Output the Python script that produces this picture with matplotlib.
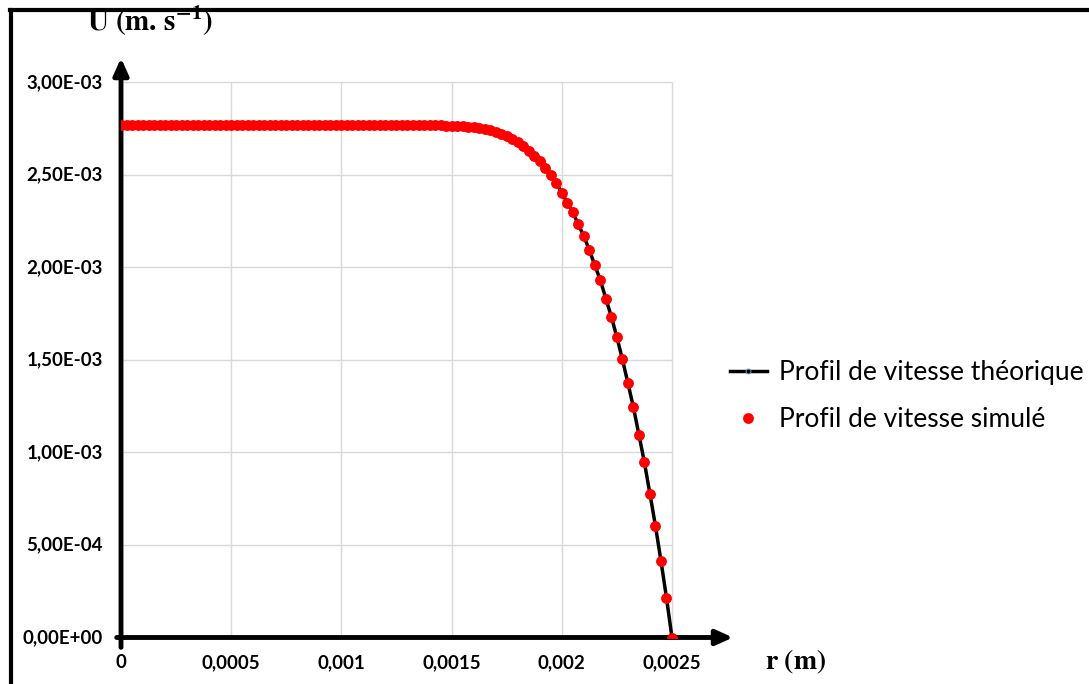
import numpy as np
import matplotlib
matplotlib.use('Agg')
import matplotlib.pyplot as plt
from matplotlib.lines import Line2D

# radial positions (101 points, every 2.5e-5 m)
r = np.linspace(0, 0.0025, 101)

# velocity, in 1e-3 m/s
u_read = [2.768] * 59 + [
    2.767, 2.766, 2.765, 2.763, 2.761, 2.758, 2.754, 2.749, 2.742, 2.733,
    2.722, 2.709, 2.694, 2.677, 2.656, 2.631, 2.604, 2.574, 2.540, 2.502,
    2.455, 2.404, 2.351, 2.297, 2.234, 2.169, 2.094, 2.012, 1.931, 1.832,
    1.734, 1.623, 1.504, 1.376, 1.245, 1.097, 0.946, 0.777, 0.604, 0.415,
    0.216, 0.000]
u_theo = np.array(u_read) * 1e-3
u_sim = np.array(u_read) * 1e-3

x_ticks = [0, 0.0005, 0.001, 0.0015, 0.002, 0.0025]
x_labels = ['0', '0,0005', '0,001', '0,0015', '0,002', '0,0025']
y_ticks = [0, 5e-4, 1e-3, 1.5e-3, 2e-3, 2.5e-3, 3e-3]
y_labels = ['0,00E+00', '5,00E-04', '1,00E-03', '1,50E-03', '2,00E-03', '2,50E-03', '3,00E-03']

W, H = 1089, 684
fig = plt.figure(figsize=(W / 100, H / 100), dpi=100)
ax = fig.add_axes([121 / W, 1 - 637.5 / H, (733 - 121) / W, (637.5 - 58) / H])
ax.set_xlim(0, 0.002777)
ax.set_ylim(0, 3.132e-3)
for s in ax.spines.values():
    s.set_visible(False)
ax.set_xticks([])
ax.set_yticks([])

# grid
ax.vlines(x_ticks[1:], 0, 3e-3, color='#d9d9d9', lw=1, zorder=0)
ax.hlines(y_ticks[1:], 0, 0.0025, color='#d9d9d9', lw=1, zorder=0)

# axes with arrows
ax.annotate('', xy=(1.0, 0), xycoords='axes fraction', xytext=(-0.007, 0),
            arrowprops=dict(arrowstyle='-|>,head_length=1.0,head_width=0.45', lw=3.5, color='black',
                            shrinkA=0, shrinkB=0), annotation_clip=False)
ax.annotate('', xy=(0, 1.0), xycoords='axes fraction', xytext=(0, -0.017),
            arrowprops=dict(arrowstyle='-|>,head_length=1.0,head_width=0.45', lw=3.5, color='black',
                            shrinkA=0, shrinkB=0), annotation_clip=False)

ax.plot(r, u_theo, color='black', lw=2.5, marker='o', ms=3.5, mfc='black', mec='#5b9bd5',
        mew=0.7, label='Profil de vitesse théorique', zorder=3)
ax.plot(r, u_sim, ls='none', marker='o', ms=6.8, color='red', mec='red',
        label='Profil de vitesse simulé', zorder=4)

tick_font = dict(family='Lato', fontweight='bold', fontsize=13.5)
for xv, lab in zip(x_ticks, x_labels):
    ax.text(xv, -0.043, lab, transform=ax.get_xaxis_transform(), ha='center', va='center', **tick_font)
for yv, lab in zip(y_ticks, y_labels):
    ax.text(-0.03, yv, lab, transform=ax.get_yaxis_transform(), ha='right', va='center', **tick_font)

plt.rcParams['mathtext.fontset'] = 'stix'
fig.text(150 / W, 1 - 21 / H, r'$\mathbf{U\ (m.\,s^{-1})}$', ha='center', va='center', fontsize=21)
fig.text(796 / W, 1 - 662 / H, r'$\mathbf{r\ (m)}$', ha='center', va='center', fontsize=20)

fig.legend(loc='center left', bbox_to_anchor=(730 / W, 1 - 396 / H), frameon=False,
           prop=dict(family='Lato', size=19), handlelength=1.4, handletextpad=0.45,
           labelspacing=0.85, borderpad=0, borderaxespad=0)

# outer frame (clipped on right and bottom)
fig.add_artist(Line2D([10 / W, 1], [1 - 10 / H, 1 - 10 / H], color='black', lw=3, transform=fig.transFigure))
fig.add_artist(Line2D([11 / W, 11 / W], [0, 1 - 10 / H], color='black', lw=3, transform=fig.transFigure))

fig.savefig('out.png', dpi=100)
